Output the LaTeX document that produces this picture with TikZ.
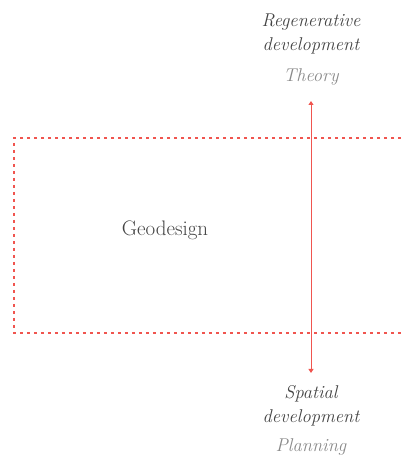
\documentclass[tikz,border=0pt]{standalone}
\usepackage{fontspec}
\setmainfont{Latin Modern Roman}
\usetikzlibrary{positioning,arrows.meta}
\definecolor{boxred}{HTML}{F0554F}
\definecolor{darktext}{HTML}{444444}
\definecolor{lighttext}{HTML}{8A8A8A}
\tikzset{
    label text/.style={font=\fontsize{18.5}{23.5}\selectfont\itshape, text=darktext, align=center, inner sep=0},
    field text/.style={font=\fontsize{18.5}{23.5}\selectfont\itshape, text=lighttext, inner sep=0},
    frame line/.style={draw=boxred, line width=1.4pt, dash pattern=on 3pt off 4pt},
    scale line/.style={draw=boxred, line width=0.8pt, {Triangle[length=4pt,width=5pt]}-{Triangle[length=4pt,width=5pt]}}
}
\begin{document}
\begin{tikzpicture}[x=1pt, y=1pt]
        \useasboundingbox (0,0) rectangle (401,459);
        % frame of the field
        \coordinate (TR) at (401,321);
        \coordinate (TL) at (14,321);
        \coordinate (BL) at (14,126);
        \coordinate (BR) at (401,126);
        \draw [frame line] (TR) -- (TL) -- (BL) -- (BR);
        \node [font=\fontsize{21}{24}\selectfont, text=darktext] (geo) at (165,229) {Geodesign};
        % poles of the axis
        \node [label text] (regen) at (311,425) {Regenerative\\development};
        \node [field text] (theory) at (311,382) {Theory};
        \node [label text] (spatial) at (311,53) {Spatial\\development};
        \node [field text] (planning) at (311,12) {Planning};
        \coordinate (top) at (311,358);
        \coordinate (bottom) at (311,86);
        \draw [scale line] (bottom) -- (top);
    \end{tikzpicture}
\end{document}
